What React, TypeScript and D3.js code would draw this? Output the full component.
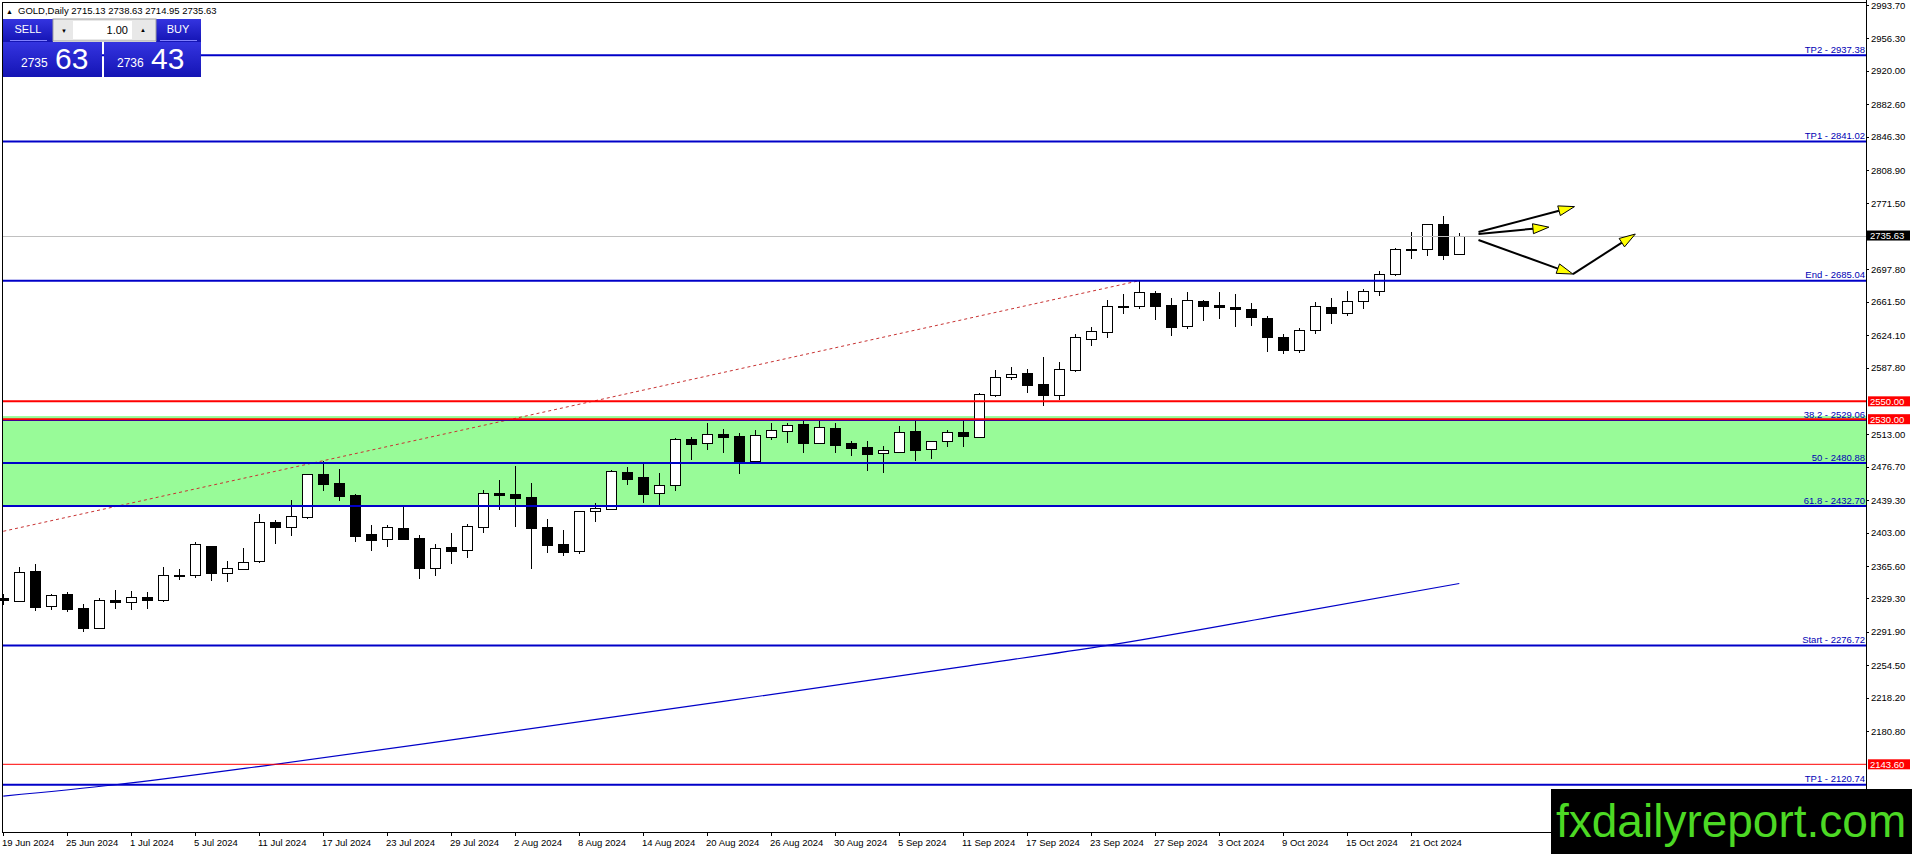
import React from "react";
import * as d3 from "d3";

const W = 1912;
const H = 854;
const plotLeft = 2;
const plotRight = 1866;
const plotTop = 2;
const plotBottom = 832;
const font = "'Liberation Sans', Arial, sans-serif";

// daily bars: date, open, high, low, close
const bars: [string, number, number, number, number][] = [
  ["19 Jun 2024", 2329.5, 2334.0, 2322.0, 2327.5],
  ["20 Jun 2024", 2326.6, 2364.7, 2325.0, 2358.4],
  ["21 Jun 2024", 2359.9, 2367.7, 2315.4, 2319.9],
  ["24 Jun 2024", 2320.3, 2334.5, 2316.5, 2333.7],
  ["25 Jun 2024", 2334.1, 2336.0, 2314.3, 2317.7],
  ["26 Jun 2024", 2318.4, 2322.9, 2291.9, 2296.4],
  ["27 Jun 2024", 2296.4, 2329.6, 2295.3, 2327.0],
  ["28 Jun 2024", 2327.4, 2338.6, 2317.3, 2325.5],
  ["1 Jul 2024", 2325.5, 2337.5, 2316.5, 2330.7],
  ["2 Jul 2024", 2331.1, 2336.3, 2317.3, 2327.8],
  ["3 Jul 2024", 2327.8, 2364.7, 2325.1, 2355.0],
  ["4 Jul 2024", 2355.2, 2362.1, 2349.4, 2355.8],
  ["5 Jul 2024", 2355.8, 2392.4, 2352.4, 2389.8],
  ["8 Jul 2024", 2387.9, 2388.5, 2349.1, 2358.0],
  ["9 Jul 2024", 2358.0, 2371.1, 2347.9, 2362.9],
  ["10 Jul 2024", 2362.5, 2385.7, 2361.0, 2369.6],
  ["11 Jul 2024", 2370.7, 2424.1, 2369.2, 2414.4],
  ["12 Jul 2024", 2414.8, 2417.0, 2390.5, 2409.6],
  ["15 Jul 2024", 2409.6, 2439.5, 2399.5, 2421.2],
  ["16 Jul 2024", 2420.8, 2468.8, 2418.5, 2468.2],
  ["17 Jul 2024", 2468.2, 2483.2, 2449.5, 2457.8],
  ["18 Jul 2024", 2458.1, 2473.8, 2438.3, 2444.3],
  ["19 Jul 2024", 2445.1, 2446.0, 2392.8, 2399.5],
  ["22 Jul 2024", 2401.4, 2411.4, 2382.7, 2395.0],
  ["23 Jul 2024", 2395.4, 2411.4, 2387.2, 2408.8],
  ["24 Jul 2024", 2407.7, 2432.0, 2394.6, 2396.1],
  ["25 Jul 2024", 2396.9, 2400.2, 2351.3, 2363.6],
  ["26 Jul 2024", 2363.6, 2390.1, 2354.3, 2385.3],
  ["29 Jul 2024", 2386.8, 2402.1, 2368.1, 2382.7],
  ["30 Jul 2024", 2383.1, 2412.6, 2374.8, 2410.0],
  ["31 Jul 2024", 2409.6, 2450.7, 2402.8, 2446.9],
  ["1 Aug 2024", 2447.3, 2461.9, 2428.3, 2445.4],
  ["2 Aug 2024", 2446.2, 2477.9, 2409.6, 2442.1],
  ["5 Aug 2024", 2442.8, 2458.9, 2362.5, 2408.5],
  ["6 Aug 2024", 2408.8, 2418.2, 2380.4, 2389.4],
  ["7 Aug 2024", 2389.8, 2405.8, 2377.1, 2381.5],
  ["8 Aug 2024", 2381.9, 2427.5, 2379.3, 2426.8],
  ["9 Aug 2024", 2426.8, 2435.7, 2415.2, 2430.1],
  ["12 Aug 2024", 2429.0, 2473.1, 2428.0, 2472.0],
  ["13 Aug 2024", 2470.5, 2476.1, 2456.7, 2463.4],
  ["14 Aug 2024", 2465.3, 2479.9, 2436.5, 2446.6],
  ["15 Aug 2024", 2447.0, 2469.4, 2431.3, 2455.9],
  ["16 Aug 2024", 2455.9, 2508.6, 2450.0, 2507.5],
  ["19 Aug 2024", 2507.9, 2509.7, 2484.3, 2502.6],
  ["20 Aug 2024", 2503.0, 2525.4, 2495.5, 2513.5],
  ["21 Aug 2024", 2513.5, 2519.1, 2492.6, 2510.5],
  ["22 Aug 2024", 2511.2, 2515.0, 2468.6, 2483.6],
  ["23 Aug 2024", 2483.6, 2518.0, 2482.5, 2512.4],
  ["26 Aug 2024", 2510.5, 2526.2, 2506.8, 2517.6],
  ["27 Aug 2024", 2517.2, 2526.2, 2503.0, 2523.6],
  ["28 Aug 2024", 2525.1, 2528.4, 2492.6, 2503.8],
  ["29 Aug 2024", 2503.8, 2528.4, 2502.3, 2521.0],
  ["30 Aug 2024", 2519.8, 2526.2, 2491.8, 2501.5],
  ["2 Sep 2024", 2503.4, 2506.0, 2488.8, 2498.2],
  ["3 Sep 2024", 2498.5, 2505.6, 2472.4, 2491.4],
  ["4 Sep 2024", 2491.8, 2500.0, 2470.1, 2495.2],
  ["5 Sep 2024", 2493.7, 2522.4, 2492.6, 2515.3],
  ["6 Sep 2024", 2516.8, 2528.4, 2483.6, 2495.9],
  ["9 Sep 2024", 2496.3, 2506.0, 2485.1, 2505.3],
  ["10 Sep 2024", 2505.3, 2518.0, 2499.3, 2515.3],
  ["11 Sep 2024", 2515.3, 2528.4, 2499.3, 2510.9],
  ["12 Sep 2024", 2510.5, 2559.1, 2509.7, 2557.9],
  ["13 Sep 2024", 2557.1, 2585.1, 2555.2, 2576.9],
  ["16 Sep 2024", 2577.6, 2588.9, 2573.9, 2581.0],
  ["17 Sep 2024", 2581.4, 2586.2, 2559.7, 2568.7],
  ["18 Sep 2024", 2569.1, 2599.3, 2544.8, 2557.5],
  ["19 Sep 2024", 2557.5, 2593.7, 2551.5, 2585.9],
  ["20 Sep 2024", 2585.1, 2625.1, 2583.2, 2621.7],
  ["23 Sep 2024", 2620.2, 2633.7, 2612.0, 2628.5],
  ["24 Sep 2024", 2628.1, 2663.6, 2621.4, 2656.5],
  ["25 Sep 2024", 2657.0, 2670.3, 2647.9, 2657.2],
  ["26 Sep 2024", 2656.5, 2685.0, 2653.5, 2672.2],
  ["27 Sep 2024", 2671.0, 2673.7, 2641.2, 2657.2],
  ["30 Sep 2024", 2658.0, 2665.4, 2623.6, 2633.7],
  ["1 Oct 2024", 2634.1, 2672.5, 2631.1, 2663.2],
  ["2 Oct 2024", 2662.5, 2663.0, 2640.4, 2657.2],
  ["3 Oct 2024", 2658.0, 2672.0, 2642.0, 2656.0],
  ["4 Oct 2024", 2656.0, 2670.0, 2633.0, 2653.0],
  ["7 Oct 2024", 2653.0, 2660.0, 2634.0, 2644.0],
  ["8 Oct 2024", 2643.0, 2645.0, 2605.0, 2622.0],
  ["9 Oct 2024", 2622.0, 2625.0, 2603.0, 2608.0],
  ["10 Oct 2024", 2608.0, 2632.0, 2604.0, 2630.0],
  ["11 Oct 2024", 2630.0, 2661.0, 2625.0, 2657.0],
  ["14 Oct 2024", 2656.0, 2666.0, 2637.0, 2649.0],
  ["15 Oct 2024", 2649.0, 2673.0, 2645.0, 2662.0],
  ["16 Oct 2024", 2662.0, 2676.0, 2653.0, 2674.0],
  ["17 Oct 2024", 2674.0, 2696.0, 2668.0, 2692.0],
  ["18 Oct 2024", 2692.0, 2722.0, 2690.0, 2721.0],
  ["21 Oct 2024", 2721.0, 2740.0, 2709.0, 2720.0],
  ["22 Oct 2024", 2720.0, 2749.0, 2713.0, 2748.0],
  ["23 Oct 2024", 2748.0, 2758.0, 2708.0, 2714.0],
  ["24 Oct 2024", 2715.13, 2738.63, 2714.95, 2735.63],
];

const dateTicks = [
  "19 Jun 2024", "25 Jun 2024", "1 Jul 2024", "5 Jul 2024", "11 Jul 2024", "17 Jul 2024",
  "23 Jul 2024", "29 Jul 2024", "2 Aug 2024", "8 Aug 2024", "14 Aug 2024", "20 Aug 2024",
  "26 Aug 2024", "30 Aug 2024", "5 Sep 2024", "11 Sep 2024", "17 Sep 2024", "23 Sep 2024",
  "27 Sep 2024", "3 Oct 2024", "9 Oct 2024", "15 Oct 2024", "21 Oct 2024",
];

const priceTicks = [
  2993.7, 2956.3, 2920.0, 2882.6, 2846.3, 2808.9, 2771.5, 2697.8, 2661.5, 2624.1, 2587.8,
  2513.0, 2476.7, 2439.3, 2403.0, 2365.6, 2329.3, 2291.9, 2254.5, 2218.2, 2180.8,
];

// fibo / target levels (blue) and price alerts (red)
const levelNames = ["TP2", "TP1", "End", "38.2", "50", "61.8", "Start", "TP1"];
const levelValues = [2937.38, 2841.02, 2685.04, 2529.06, 2480.88, 2432.7, 2276.72, 2120.74];
const redValues = [2550.0, 2530.0, 2143.6];
const zone = [2432.7, 2533.5];

// moving average read at some bars: [bar index, value]
const maPoints: [number, number][] = [
  [0, 2108], [7, 2120.7], [17, 2143.6], [30, 2176], [45, 2214], [60, 2253], [69, 2276.7], [80, 2311], [91, 2346],
];
const trendPoints: [number, number][] = [[0, 2404.5], [71, 2685.04]];

// forecast arrows: [from bar, from price, to bar, to price]
const arrows: [number, number, number, number][] = [
  [92.2, 2739.5, 98.2, 2768.0],
  [92.2, 2737.3, 96.6, 2745.0],
  [92.2, 2730.6, 98.1, 2692.5],
  [98.1, 2692.5, 102.0, 2737.3],
];

const x = d3.scaleLinear().domain([0, 91]).range([3.3, 1459.3]);
const y = d3.scaleLinear().domain([2067.8, 2997.1]).range([plotBottom, plotTop]);
const px = (v: number) => Math.round(v) + 0.5;

const Arrow = ({ a }: { a: [number, number, number, number] }) => {
  const x1 = x(a[0]), y1 = y(a[1]), x2 = x(a[2]), y2 = y(a[3]);
  const ang = Math.atan2(y2 - y1, x2 - x1);
  const len = 16, hw = 5;
  const bx = x2 - len * Math.cos(ang), by = y2 - len * Math.sin(ang);
  const nx = -Math.sin(ang) * hw, ny = Math.cos(ang) * hw;
  return (
    <g>
      <line x1={x1} y1={y1} x2={bx} y2={by} stroke="#000" strokeWidth={2} />
      <path d={`M${x2},${y2}L${bx + nx},${by + ny}L${bx - nx},${by - ny}Z`} fill="#ffff00" stroke="#000" strokeWidth={1} />
    </g>
  );
};

export default function App() {
  const last = bars[bars.length - 1];
  const bid = last[4];
  const ask = bid + 0.8;
  const maLine = d3.line<[number, number]>().x((d) => x(d[0])).y((d) => y(d[1])).curve(d3.curveMonotoneX);
  const trendLine = d3.line<[number, number]>().x((d) => x(d[0])).y((d) => y(d[1]));
  const bidStr = bid.toFixed(2).split(".");
  const askStr = ask.toFixed(2).split(".");

  return (
    <svg width={W} height={H} style={{ position: "absolute", left: 0, top: 0, display: "block", background: "#fff" }} fontFamily={font}>
      <rect x={0} y={0} width={W} height={H} fill="#fff" />
      {/* zone */}
      <rect x={plotLeft} y={y(zone[1])} width={plotRight - plotLeft} height={y(zone[0]) - y(zone[1])} fill="#98fb98" />

      {/* moving average */}
      <path d={maLine(maPoints) || ""} fill="none" stroke="#0000c8" strokeWidth={1.2} />
      {/* fibo trend line */}
      <path d={trendLine(trendPoints) || ""} fill="none" stroke="#c83232" strokeWidth={1} strokeDasharray="3 3" />

      {/* candles */}
      {bars.map((b, i) => {
        const cx = Math.round(x(i));
        const [, o, h, l, c] = b;
        const top = Math.round(y(Math.max(o, c)));
        const bot = Math.max(Math.round(y(Math.min(o, c))), top + 1);
        const up = c >= o;
        return (
          <g key={i} shapeRendering="crispEdges">
            <line x1={cx + 0.5} x2={cx + 0.5} y1={Math.round(y(h))} y2={Math.round(y(l))} stroke="#000" />
            <rect x={cx - 4.5} y={top + 0.5} width={10} height={bot - top} fill={up ? "#fff" : "#000"} stroke="#000" />
          </g>
        );
      })}

      {/* current price line */}
      <line x1={plotLeft} x2={plotRight} y1={px(y(bid))} y2={px(y(bid))} stroke="#c0c0c0" shapeRendering="crispEdges" />

      {/* levels */}
      {levelValues.map((v, i) => (
        <g key={"lv" + i}>
          <line x1={plotLeft} x2={plotRight} y1={y(v)} y2={y(v)} stroke="#0000c8" strokeWidth={2} />
          <text x={plotRight - 1} y={y(v) - 2.5} textAnchor="end" fontSize={9.5} fill="#0000b4">
            {`${levelNames[i]} - ${v.toFixed(2)}`}
          </text>
        </g>
      ))}
      {redValues.map((v, i) => (
        <line key={"rv" + i} x1={plotLeft} x2={plotRight} y1={y(v)} y2={y(v)} stroke="#ff0000" strokeWidth={i < 2 ? 2 : 1} />
      ))}

      {/* arrows */}
      {arrows.map((a, i) => <Arrow key={"ar" + i} a={a} />)}

      {/* frame */}
      <g shapeRendering="crispEdges" stroke="#000" fill="none">
        <line x1={plotLeft} x2={plotRight} y1={plotTop} y2={plotTop} />
        <line x1={plotLeft} x2={plotRight} y1={plotBottom} y2={plotBottom} />
        <line x1={plotLeft} x2={plotLeft} y1={plotTop} y2={plotBottom} />
        <line x1={plotRight} x2={plotRight} y1={0} y2={plotBottom} />
      </g>

      {/* price axis */}
      {priceTicks.map((t) => (
        <g key={"pt" + t}>
          <line x1={plotRight} x2={plotRight + 3} y1={px(y(t))} y2={px(y(t))} stroke="#000" shapeRendering="crispEdges" />
          <text x={plotRight + 5} y={y(t)} dominantBaseline="central" fontSize={9.5} fill="#000">
            {t.toFixed(2)}
          </text>
        </g>
      ))}
      {redValues.map((v) => (
        <g key={"rl" + v}>
          <rect x={plotRight + 2} y={y(v) - 5} width={42} height={10} fill="#ff0000" />
          <text x={plotRight + 4} y={y(v)} dominantBaseline="central" fontSize={9.5} fill="#fff">
            {v.toFixed(2)}
          </text>
        </g>
      ))}
      <rect x={plotRight + 1} y={y(bid) - 5} width={43} height={10} fill="#000" />
      <text x={plotRight + 4} y={y(bid)} dominantBaseline="central" fontSize={9.5} fill="#fff">
        {bid.toFixed(2)}
      </text>

      {/* time axis */}
      {dateTicks.map((d) => {
        const i = bars.findIndex((b) => b[0] === d);
        const tx = Math.round(x(i));
        return (
          <g key={"dt" + d}>
            <line x1={tx + 0.5} x2={tx + 0.5} y1={plotBottom} y2={plotBottom + 4} stroke="#000" shapeRendering="crispEdges" />
            <text x={tx - 1} y={846} fontSize={9.5} fill="#000">
              {d}
            </text>
          </g>
        );
      })}

      {/* header */}
      <text x={6} y={14} fontSize={7} fill="#000">▲</text>
      <text x={18} y={14} fontSize={9.5} fill="#000">
        {`GOLD,Daily  ${last[1].toFixed(2)} ${last[2].toFixed(2)} ${last[3].toFixed(2)} ${last[4].toFixed(2)}`}
      </text>

      {/* one click trading panel */}
      <defs>
        <linearGradient id="btn" x1="0" y1="0" x2="0" y2="1">
          <stop offset="0" stopColor="#3434e0" />
          <stop offset="1" stopColor="#1414b4" />
        </linearGradient>
      </defs>
      <rect x={3} y={19} width={50} height={23} fill="url(#btn)" />
      <rect x={156} y={19} width={45} height={23} fill="url(#btn)" />
      <rect x={53} y={19} width={103} height={22} fill="#e8e8e8" stroke="#a0a0a0" />
      <rect x={73} y={21} width={59} height={18} fill="#fff" />
      <text x={64} y={31} textAnchor="middle" dominantBaseline="central" fontSize={6} fill="#000">▼</text>
      <text x={143} y={30} textAnchor="middle" dominantBaseline="central" fontSize={6} fill="#000">▲</text>
      <text x={128} y={30} textAnchor="end" dominantBaseline="central" fontSize={11} fill="#000">1.00</text>
      <text x={28} y={29} textAnchor="middle" dominantBaseline="central" fontSize={11} fill="#fff">SELL</text>
      <text x={178} y={29} textAnchor="middle" dominantBaseline="central" fontSize={11} fill="#fff">BUY</text>
      <line x1={10} x2={47} y1={40.5} y2={40.5} stroke="#8080ff" />
      <line x1={160} x2={197} y1={40.5} y2={40.5} stroke="#8080ff" />
      <rect x={3} y={42} width={99} height={35} fill="url(#btn)" />
      <rect x={104} y={42} width={97} height={35} fill="url(#btn)" />
      <text x={21} y={67} fontSize={12} fill="#fff">{bidStr[0]}</text>
      <text x={55} y={69} fontSize={30} fill="#fff">{bidStr[1]}</text>
      <text x={117} y={67} fontSize={12} fill="#fff">{askStr[0]}</text>
      <text x={151} y={69} fontSize={30} fill="#fff">{askStr[1]}</text>

      {/* watermark */}
      <rect x={1551} y={789} width={W - 1551} height={H - 789} fill="#000" />
      <text x={1556} y={837} fontSize={46} fill="#4cd924">fxdailyreport.com</text>
    </svg>
  );
}
